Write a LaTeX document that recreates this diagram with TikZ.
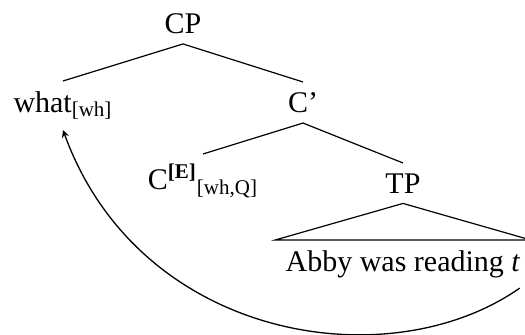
\documentclass[tikz,border=0pt]{standalone}
\usepackage{fontspec}
\setmainfont{Liberation Serif}
\usepackage{tikz}
\usetikzlibrary{arrows.meta,positioning}

\begin{document}
\begin{tikzpicture}[x=0.5pt, y=-0.5pt,
            cat/.style={anchor=north, inner sep=5pt, font=\fontsize{15}{18}\selectfont},
            branch/.style={line width=0.6pt},
            movement/.style={->, >=stealth, line width=0.65pt}
        ]
        \useasboundingbox (0,0) rectangle (525,335);
        \node[cat] (cp) at (183,3) {CP};
        \node[cat] (what) at (63,81) {what\textsubscript{[wh]}};
        \node[cat] (cbar) at (303,82) {C'};
        \node[cat] (ce) at (203,154) {C\textsuperscript{\textbf{[E]}}\textsubscript{[wh,Q]}};
        \node[cat] (tp) at (403,163) {TP};
        \node[cat] (abby) at (403,240) {Abby was reading \textit{t}};

        \draw[branch] (what.north) -- (cp.south) -- (cbar.north);
        \draw[branch] (ce.north) -- (cbar.south) -- (tp.north);
        \draw[branch] (tp.south) -- (abby.north west) -- (abby.north east) -- cycle;

        \draw[movement] ([xshift=-5.5pt]abby.south east) .. controls +(-145:80pt) and +(-70:112pt) .. (what.south);
        \end{tikzpicture}
\end{document}
